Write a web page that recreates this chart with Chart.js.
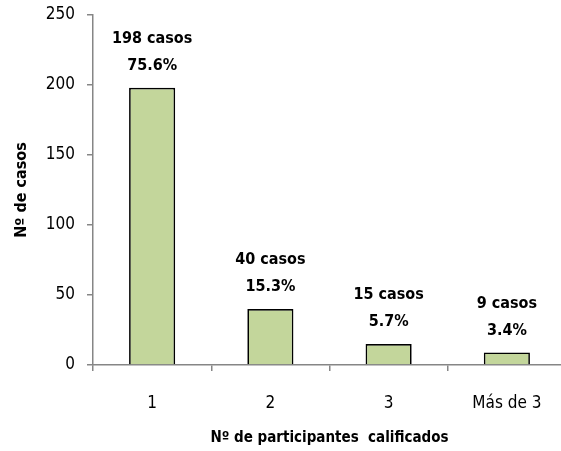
<!DOCTYPE html>
<html>
<head>
<meta charset="utf-8">
<script src="https://cdn.jsdelivr.net/npm/chart.js@4.4.0/dist/chart.umd.min.js"></script>
<style>
  html, body { margin: 0; padding: 0; background: #fff; overflow: hidden; }
  #wrap { width: 580px; height: 451px; position: relative; }
</style>
</head>
<body>
<div id="wrap"><canvas id="chart"></canvas></div>
<script>
  // Datos
  const categorias = ['1', '2', '3', 'Más de 3'];
  const casos = [198, 40, 15, 9];
  const porcentajes = ['75.6%', '15.3%', '5.7%', '3.4%'];
  const ticksY = [0, 50, 100, 150, 200, 250];

  const FONT = "'Liberation Sans Narrow', 'DejaVu Sans Condensed', 'Liberation Sans', sans-serif";
  const gris = '#868686';

  // etiquetas encima de cada barra
  const etiquetas = {
    id: 'etiquetas',
    afterDatasetsDraw(chart) {
      const ctx = chart.ctx;
      const meta = chart.getDatasetMeta(0);
      ctx.save();
      ctx.font = 'bold 16px ' + FONT;
      ctx.fillStyle = '#000';
      ctx.textAlign = 'center';
      ctx.textBaseline = 'middle';
      meta.data.forEach((bar, i) => {
        ctx.fillText(casos[i] + ' casos', bar.x, bar.y - 49);
        ctx.fillText(porcentajes[i], bar.x, bar.y - 22);
      });
      ctx.restore();
    },
  };

  new Chart(document.getElementById('chart'), {
    type: 'bar',
    data: {
      labels: categorias,
      datasets: [{
        data: casos,
        backgroundColor: '#c3d69b',
        borderColor: '#000',
        borderWidth: 1.7,
        categoryPercentage: 1,
        barPercentage: 0.39,
      }],
    },
    options: {
      responsive: true,
      maintainAspectRatio: false,
      animation: false,
      layout: { padding: { top: 15, right: 14, left: 0, bottom: 0 } },
      plugins: { legend: { display: false }, tooltip: { enabled: false } },
      scales: {
        y: {
          min: 0,
          max: 250,
          afterBuildTicks: (s) => { s.ticks = ticksY.map((v) => ({ value: v })); },
          afterFit: (s) => { s.width = 93; s.paddingTop = 0; s.paddingBottom = 0; },
          border: { color: gris, width: 1.5 },
          grid: { drawOnChartArea: false, drawTicks: true, tickLength: 6, color: gris, lineWidth: 1.5 },
          ticks: { padding: 12, color: '#000', font: { family: FONT, size: 17 } },
          title: {
            display: true,
            text: 'Nº de casos',
            color: '#000',
            font: { family: FONT, size: 16, weight: 'bold' },
            padding: { top: 12, bottom: 0 },
          },
        },
        x: {
          afterFit: (s) => { s.height = 86; s.paddingLeft = 0; s.paddingRight = 0; },
          border: { color: gris, width: 1.5 },
          grid: { offset: true, drawOnChartArea: false, drawTicks: true, tickLength: 6, color: gris, lineWidth: 1.5 },
          ticks: { padding: 22, color: '#000', font: { family: FONT, size: 17 }, maxRotation: 0 },
          title: {
            display: true,
            text: 'Nº de participantes  calificados',
            color: '#000',
            font: { family: FONT, size: 15, weight: 'bold' },
            padding: { top: 0, bottom: 4 },
          },
        },
      },
    },
    plugins: [etiquetas],
  });
</script>
</body>
</html>
